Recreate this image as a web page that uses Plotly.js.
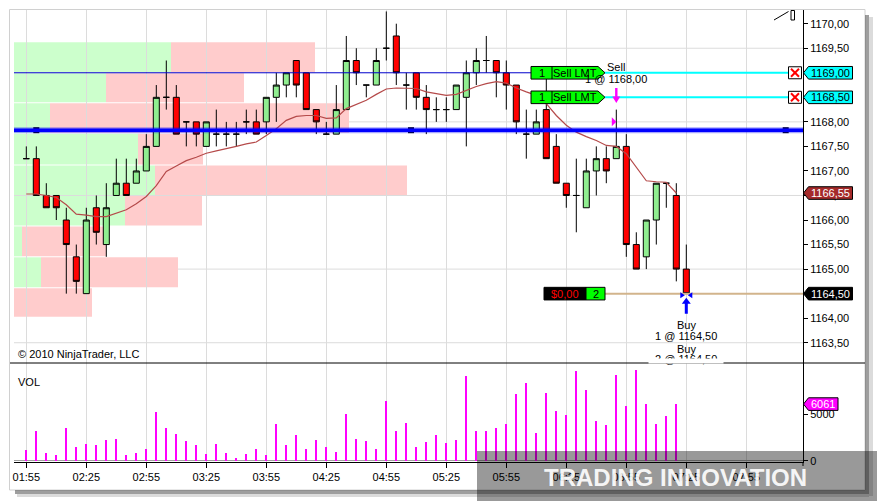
<!DOCTYPE html>
<html><head><meta charset="utf-8">
<script src="https://cdn.plot.ly/plotly-3.0.1.min.js"></script>
<style>html,body{margin:0;padding:0;background:#fff;}#chart{width:877px;height:501px;}</style>
</head><body><div id="chart"></div>
<script>
const day = '2010-06-01 ';
const barTimes = ['01:55','02:00','02:05','02:10','02:15','02:20','02:25','02:30','02:35','02:40','02:45','02:50',
 '02:55','03:00','03:05','03:10','03:15','03:20','03:25','03:30','03:35','03:40','03:45','03:50',
 '03:55','04:00','04:05','04:10','04:15','04:20','04:25','04:30','04:35','04:40','04:45','04:50',
 '04:55','05:00','05:05','05:10','05:15','05:20','05:25','05:30','05:35','05:40','05:45','05:50',
 '05:55','06:00','06:05','06:10','06:15','06:20','06:25','06:30','06:35','06:40','06:45','06:50',
 '06:55','07:00','07:05','07:10','07:15','07:20','07:25'];
const open = [1167.25,1167.25,1166.5,1166.5,1166.0,1165.25,1164.5,1166.25,1165.5,1166.5,
 1166.75,1166.75,1167.0,1167.5,1168.5,1168.5,1168.0,1168.0,1167.5,1167.75,
 1167.75,1167.75,1168.0,1168.0,1168.0,1168.5,1168.75,1169.25,1169.0,1168.25,
 1167.75,1167.75,1168.25,1169.25,1168.75,1168.75,1169.5,1169.75,1168.75,1169.0,
 1168.5,1168.25,1168.25,1168.25,1168.5,1169.0,1169.25,1169.25,1169.0,1168.75,
 1167.75,1167.75,1168.25,1167.5,1166.75,1166.5,1166.25,1167.0,1167.25,1167.25,
 1167.5,1165.5,1165.25,1166.0,1166.75,1166.5,1165.0];
const high = [1167.5,1167.5,1166.75,1166.5,1166.25,1165.5,1166.25,1166.5,1166.75,1167.25,
 1167.25,1167.25,1167.75,1168.75,1169.25,1168.75,1168.0,1168.0,1168.0,1168.25,
 1168.0,1168.0,1168.25,1168.25,1168.5,1169.0,1169.0,1169.25,1169.0,1168.25,
 1168.0,1168.75,1169.75,1169.5,1168.75,1169.5,1170.25,1170.0,1169.0,1169.0,
 1168.75,1168.5,1168.5,1168.75,1169.25,1169.5,1169.75,1169.25,1169.25,1168.75,
 1168.25,1168.25,1169.0,1167.75,1166.75,1167.25,1167.25,1167.5,1167.5,1168.25,
 1167.75,1165.75,1166.0,1166.75,1166.75,1166.75,1165.5];
const low = [1167.25,1166.5,1166.25,1166.0,1164.5,1164.5,1164.5,1165.5,1165.25,1166.5,
 1166.5,1166.75,1167.0,1167.5,1168.25,1167.75,1167.5,1167.5,1167.5,1167.5,
 1167.5,1167.5,1167.75,1167.75,1167.75,1168.0,1168.5,1168.5,1168.25,1167.75,
 1167.75,1167.75,1168.25,1168.75,1168.5,1168.75,1169.25,1168.75,1168.25,1168.25,
 1167.75,1168.0,1168.0,1168.25,1167.5,1168.75,1169.0,1168.5,1168.25,1167.75,
 1167.25,1167.75,1167.25,1166.75,1166.25,1165.75,1166.25,1166.5,1166.75,1167.25,
 1165.25,1165.0,1165.0,1165.5,1166.25,1164.75,1164.5];
const close = [1167.25,1166.5,1166.25,1166.25,1165.5,1164.75,1166.0,1165.75,1166.25,1166.75,
 1166.5,1167.0,1167.5,1168.5,1168.5,1167.75,1168.0,1167.75,1168.0,1167.75,
 1167.75,1167.75,1168.0,1167.75,1168.5,1168.75,1169.0,1168.75,1168.25,1168.0,
 1167.75,1168.25,1169.25,1169.0,1168.75,1169.25,1169.5,1169.0,1168.75,1168.5,
 1168.25,1168.25,1168.25,1168.75,1169.0,1169.25,1169.25,1169.0,1168.75,1168.0,
 1167.75,1168.0,1167.25,1166.75,1166.5,1166.5,1167.0,1167.25,1167.0,1167.5,
 1165.5,1165.0,1166.0,1166.75,1166.75,1165.0,1164.5];
// volume & SMA (calculated on bar close: none for the running last bar)
const volume = [1100,3150,870,650,3480,1520,1740,1630,2170,2280,
 650,870,1200,5220,3480,2830,2070,1630,760,1740,
 870,330,760,1200,650,3910,1630,2720,1200,2170,
 1520,980,5000,2280,2070,1300,6410,3150,4020,1520,
 1960,2720,1850,2170,9020,3150,3150,3480,3910,7170,
 8370,2930,7280,5330,4890,9570,7610,4240,3800,9130,
 5870,9670,6090,3910,4780,6061];
const sma = [1166.53,1166.53,1166.50,1166.46,1166.31,1166.12,1166.10,1166.07,1166.07,1166.14,
 1166.21,1166.33,1166.48,1166.70,1166.99,1167.10,1167.21,1167.28,1167.36,1167.41,
 1167.45,1167.50,1167.55,1167.59,1167.72,1167.86,1168.03,1168.11,1168.13,1168.13,
 1168.07,1168.08,1168.27,1168.35,1168.44,1168.56,1168.67,1168.69,1168.69,1168.68,
 1168.61,1168.57,1168.54,1168.56,1168.64,1168.72,1168.78,1168.82,1168.79,1168.69,
 1168.61,1168.54,1168.37,1168.13,1167.93,1167.79,1167.70,1167.62,1167.52,1167.50,
 1167.35,1167.07,1166.80,1166.78,1166.77,1166.55];
const priceTicks = [1163.5,1164,1164.5,1165,1165.5,1166,1166.5,1167,1167.5,1168,1168.5,1169,1169.5,1170];
const priceGridLevels = [1163.5,1165,1166.5,1168,1169.5];
const volumeTicks = [0,5000];
// volume profile rows (bottom -> top), widths in minutes of the time axis
const profileEdges = [1164.02,1164.62,1165.25,1165.88,1166.50,1167.12,1167.77,1168.39,1169.00,1169.63];
const profileUp   = [0,13.5,4,55.5,70.5,62,18,46,78.5];
const profileDown = [39,68.5,42,38.5,126,32.5,149.5,69,72];
// drawings & orders
const hLinePrice = 1167.83;
const hLineAnchors = ['02:00:00','05:07:21','08:14:42'];
const thinLinePrice = 1169.0;
const sellLimitPrices = [1169.0, 1168.5];
const positionPrice = 1164.5, positionQty = 2, positionPnl = '$0,00';
const sellExec = {bar:59, price:1168.00, qty:1};
const buyExec = {bar:66, price:1164.50, qtys:[1,2]};

const FONT = 'Liberation Sans, Arial, sans-serif';
const L=14, R=803, T=10, B=462, W=R-L, H=B-T;
const X = px => (px-L)/W;
const Y = py => (B-py)/H;
const pricePerPx = 1/49.08;
const fmt = p => p.toFixed(2).replace('.', ',');
const times = barTimes.map(t => day + t);
const xRange = [day+'01:48:51', day+'08:23:21'];
const t0 = Date.parse('2010-06-01T01:48:51Z');
const tStr = ms => new Date(ms).toISOString().slice(0,19).replace('T',' ');

const traces = [
 {type:'candlestick', x:times, open:open, high:high, low:low, close:close, xaxis:'x', yaxis:'y',
  increasing:{line:{color:'#000',width:1}, fillcolor:'#90ee90'},
  decreasing:{line:{color:'#000',width:1}, fillcolor:'#ff0000'},
  whiskerwidth:0, hoverinfo:'skip', showlegend:false},
 {type:'scatter', mode:'lines', x:times.slice(0, sma.length), y:sma, line:{color:'#b54a4a', width:1.2},
  xaxis:'x', yaxis:'y', hoverinfo:'skip', showlegend:false},
 {type:'bar', x:times.slice(0, volume.length), y:volume, width:60000, marker:{color:'#ff00ff', line:{width:0}},
  xaxis:'x', yaxis:'y2', hoverinfo:'skip', showlegend:false}
];

const shapes = [];
const ann = [];
function txt(o){ ann.push(Object.assign({showarrow:false, xanchor:'center', yanchor:'middle'}, o)); }
// volume profile
for (let i=0;i<profileUp.length;i++){
  const y0 = profileEdges[i]+0.01, y1 = profileEdges[i+1]-0.01;
  const a = t0, b = t0 + profileUp[i]*60000, c = b + profileDown[i]*60000;
  if (profileUp[i]>0) shapes.push({type:'rect', xref:'x', yref:'y', x0:tStr(a), x1:tStr(b), y0:y0, y1:y1, fillcolor:'#ccffcc', line:{width:0}, layer:'below'});
  shapes.push({type:'rect', xref:'x', yref:'y', x0:tStr(b), x1:tStr(c), y0:y0, y1:y1, fillcolor:'#ffcccc', line:{width:0}, layer:'below'});
}
// price grid
priceGridLevels.forEach(p => shapes.push({type:'line', xref:'paper', yref:'y', x0:0, x1:1, y0:p, y1:p, line:{color:'#dcdcdc', width:1}, layer:'below'}));
// thin line and thick horizontal line
shapes.push({type:'line', xref:'paper', yref:'y', x0:0, x1:X(531), y0:thinLinePrice, y1:thinLinePrice, line:{color:'#0000cc', width:1}, layer:'above'});
shapes.push({type:'line', xref:'paper', yref:'y', x0:0, x1:1, y0:hLinePrice, y1:hLinePrice, line:{color:'rgba(0,0,255,0.35)', width:6}, layer:'above'});
shapes.push({type:'line', xref:'paper', yref:'y', x0:0, x1:1, y0:hLinePrice, y1:hLinePrice, line:{color:'#0000ff', width:3.5}, layer:'above'});
traces.push({type:'scatter', mode:'markers', x:hLineAnchors.map(t=>day+t), y:hLineAnchors.map(()=>hLinePrice),
  marker:{symbol:'square', size:6, color:'#000'}, xaxis:'x', yaxis:'y', hoverinfo:'skip', showlegend:false});

const tf = {family:FONT, size:11, color:'#000'};
// axis price label helper
function axisLabel(yref, val, halfH, x1, fill, label, txtColor){
  shapes.push({type:'path', xref:'paper', yref:yref, layer:'above',
    path:`M ${X(803.5)},${val} L ${X(808.5)},${val+halfH} L ${X(x1)},${val+halfH} L ${X(x1)},${val-halfH} L ${X(808.5)},${val-halfH} Z`,
    fillcolor:fill, line:{color:'#000', width:1}});
  txt({xref:'paper', yref:yref, x:X((808.5+x1)/2), y:val, text:label, font:{family:FONT, size:11, color:txtColor}});
}
const hh = 6.3*pricePerPx;
// sell limit orders
sellLimitPrices.forEach(p => {
  shapes.push({type:'line', xref:'paper', yref:'y', x0:X(605), x1:X(788.5), y0:p, y1:p, line:{color:'#00ffff', width:2}, layer:'above'});
  shapes.push({type:'path', xref:'paper', yref:'y', layer:'above',
    path:`M ${X(531)},${p+hh} L ${X(598)},${p+hh} L ${X(605)},${p} L ${X(598)},${p-hh} L ${X(531)},${p-hh} Z`,
    fillcolor:'#00ff00', line:{color:'#000', width:1}});
  shapes.push({type:'line', xref:'paper', yref:'y', x0:X(552), x1:X(552), y0:p-hh, y1:p+hh, line:{color:'#000', width:1}, layer:'above'});
  txt({xref:'paper', yref:'y', x:X(541.5), y:p, text:'1', font:tf});
  txt({xref:'paper', yref:'y', x:X(575), y:p, text:'Sell LMT', font:tf});
  const bh = 6*pricePerPx;
  shapes.push({type:'rect', xref:'paper', yref:'y', x0:X(788.5), x1:X(801.5), y0:p-bh, y1:p+bh, fillcolor:'#fff', line:{color:'#000', width:1}, layer:'above'});
  const ih = 4*pricePerPx;
  shapes.push({type:'line', xref:'paper', yref:'y', x0:X(791), x1:X(799), y0:p+ih, y1:p-ih, line:{color:'#ff0000', width:2}, layer:'above'});
  shapes.push({type:'line', xref:'paper', yref:'y', x0:X(791), x1:X(799), y0:p-ih, y1:p+ih, line:{color:'#ff0000', width:2}, layer:'above'});
  axisLabel('y', p, hh, 852.5, '#00ffff', fmt(p), '#000');
});
// position line
shapes.push({type:'line', xref:'paper', yref:'y', x0:X(605), x1:1, y0:positionPrice, y1:positionPrice, line:{color:'#d2b48c', width:2}, layer:'above'});
shapes.push({type:'rect', xref:'paper', yref:'y', x0:X(544), x1:X(586), y0:positionPrice-hh, y1:positionPrice+hh, fillcolor:'#000', line:{color:'#000',width:1}, layer:'above'});
shapes.push({type:'rect', xref:'paper', yref:'y', x0:X(586), x1:X(605), y0:positionPrice-hh, y1:positionPrice+hh, fillcolor:'#00ff00', line:{color:'#000',width:1}, layer:'above'});
txt({xref:'paper', yref:'y', x:X(565), y:positionPrice, text:positionPnl, font:{family:FONT,size:11,color:'#ff0000'}});
txt({xref:'paper', yref:'y', x:X(595.5), y:positionPrice, text:String(positionQty), font:tf});
axisLabel('y', positionPrice, hh, 852.5, '#000', fmt(positionPrice), '#fff');
axisLabel('y', sma[sma.length-1], hh, 852.5, '#a52a2a', fmt(sma[sma.length-1]), '#fff');
axisLabel('y2', volume[volume.length-1], 6.3*5000/46.7, 838, '#ff00ff', String(volume[volume.length-1]), '#fff');

// executions (pixel-sized markers anchored to bars)
const sT = times[sellExec.bar], bT = times[buyExec.bar];
function pxShape(t, p, path, color){
  shapes.push({type:'path', xref:'x', yref:'y', xsizemode:'pixel', ysizemode:'pixel', xanchor:t, yanchor:p,
    path:path, fillcolor:color, line:{width:0}, layer:'above'});
}
pxShape(sT, high[sellExec.bar], 'M 0,6.5 L -4,13 L -1.2,13 L -1.2,21.5 L 1.2,21.5 L 1.2,13 L 4,13 Z', '#ff00ff');
pxShape(sT, sellExec.price, 'M -4.5,4.5 L 0,0 L -4.5,-4.5 Z', '#ff00ff');
pxShape(bT, low[buyExec.bar], 'M 0,-4 L -4.5,-10 L -1.5,-10 L -1.5,-20 L 1.5,-20 L 1.5,-10 L 4.5,-10 Z', '#0000ff');
pxShape(bT, buyExec.price, 'M -6,1.5 L -1.5,-1.5 L -6,-4.5 Z', '#0000ff');
pxShape(bT, buyExec.price, 'M 6,1.5 L 1.5,-1.5 L 6,-4.5 Z', '#0000ff');
txt({xref:'x', yref:'y', x:sT, y:high[sellExec.bar], yshift:43, text:'Sell', font:tf});
txt({xref:'x', yref:'y', x:sT, y:high[sellExec.bar], yshift:30.6, text:sellExec.qty+' @ '+fmt(sellExec.price), font:tf});
buyExec.qtys.forEach((q,k) => {
  txt({xref:'x', yref:'y', x:bT, y:low[buyExec.bar], yshift:-31-k*24, text:'Buy', font:tf});
  txt({xref:'x', yref:'y', x:bT, y:low[buyExec.bar], yshift:-42.5-k*22.7, text:q+' @ '+fmt(buyExec.price), font:tf});
});
// the panel edge cuts the last execution text
txt({xref:'paper', yref:'paper', x:X(686), y:Y(360.6), text:' ', bgcolor:'#fff', width:74, height:4.2, borderpad:0, font:{size:3}});

// panel texts
txt({xref:'paper', yref:'paper', x:X(16), y:Y(354), xanchor:'left', text:'© 2010 NinjaTrader, LLC', font:tf});
txt({xref:'paper', yref:'paper', x:X(16), y:Y(381.5), xanchor:'left', text:'VOL', font:tf});

// frame, separator, partial drawing
shapes.push({type:'line', xref:'paper', yref:'paper', x0:X(10), x1:X(865), y0:Y(363), y1:Y(363), line:{color:'#000', width:1}, layer:'above'});
shapes.push({type:'line', xref:'paper', yref:'paper', x0:X(803), x1:X(803), y0:Y(462), y1:Y(466), line:{color:'#000', width:1}, layer:'above'});
shapes.push({type:'rect', xref:'paper', yref:'paper', x0:X(9.5), x1:X(865), y0:Y(9.5), y1:Y(490), line:{color:'#d0d0d0', width:1}, layer:'below'});
shapes.push({type:'rect', xref:'paper', yref:'paper', x0:X(865), x1:X(869), y0:Y(15), y1:Y(494), fillcolor:'rgba(0,0,0,0.38)', line:{width:0}, layer:'above'});
shapes.push({type:'rect', xref:'paper', yref:'paper', x0:X(869), x1:X(873), y0:Y(17), y1:Y(496), fillcolor:'rgba(0,0,0,0.14)', line:{width:0}, layer:'above'});
shapes.push({type:'rect', xref:'paper', yref:'paper', x0:X(15), x1:X(865), y0:Y(490), y1:Y(494), fillcolor:'rgba(0,0,0,0.38)', line:{width:0}, layer:'above'});
shapes.push({type:'rect', xref:'paper', yref:'paper', x0:X(17), x1:X(869), y0:Y(494), y1:Y(497), fillcolor:'rgba(0,0,0,0.14)', line:{width:0}, layer:'above'});
shapes.push({type:'line', xref:'paper', yref:'paper', x0:X(774), x1:X(788.5), y0:Y(20), y1:Y(11.5), line:{color:'#000', width:1}, layer:'above'});
shapes.push({type:'rect', xref:'paper', yref:'paper', x0:X(791), x1:X(794.5), y0:Y(10.5), y1:Y(20), line:{color:'#000', width:1}, layer:'above'});
// watermark
shapes.push({type:'rect', xref:'paper', yref:'paper', x0:X(477), x1:X(878), y0:Y(451), y1:Y(502), fillcolor:'rgba(0,0,0,0.4)', line:{width:0}, layer:'above'});
txt({xref:'paper', yref:'paper', x:X(675.5), y:Y(477), text:'<b>TRADING INNOVATION</b>',
  font:{family:FONT, size:24, color:'rgba(255,255,255,0.92)'}});

const layout = {
  width:877, height:501, margin:{l:L, r:877-R, t:T, b:501-B},
  paper_bgcolor:'#fff', plot_bgcolor:'#fff', showlegend:false,
  font:{family:FONT, size:11, color:'#000'},
  boxgap:0.2, boxgroupgap:0.25, bargap:0,
  xaxis:{type:'date', range:xRange, anchor:'y2', showline:true, linecolor:'#000', linewidth:1,
    ticks:'outside', ticklen:5, tickcolor:'#000', tickformat:'%H:%M', tick0:day+'01:55', dtick:1800000,
    showgrid:true, gridcolor:'#dcdcdc', gridwidth:1, zeroline:false, rangeslider:{visible:false},
    tickfont:{family:FONT, size:11, color:'#000'}, fixedrange:true},
  yaxis:{domain:[(B-363)/H, 1], range:[1170-(363-23.7)*pricePerPx, 1170+(23.7-10)*pricePerPx], side:'right',
    showline:true, linecolor:'#000', linewidth:1, ticks:'outside', ticklen:4, tickcolor:'#000',
    tickmode:'array', tickvals:priceTicks, ticktext:priceTicks.map(fmt), showgrid:false, zeroline:false,
    tickfont:{family:FONT, size:11, color:'#000'}, fixedrange:true},
  yaxis2:{domain:[0,(B-363)/H], range:[-139, 10460], side:'right', anchor:'x',
    showline:true, linecolor:'#000', linewidth:1, ticks:'outside', ticklen:4, tickcolor:'#000',
    tickmode:'array', tickvals:volumeTicks, ticktext:volumeTicks.map(String), showgrid:false,
    zeroline:true, zerolinecolor:'#a0a0a0', zerolinewidth:1,
    tickfont:{family:FONT, size:11, color:'#000'}, fixedrange:true},
  shapes:shapes, annotations:ann
};
Plotly.newPlot('chart', traces, layout, {displayModeBar:false, staticPlot:true});
</script></body></html>
